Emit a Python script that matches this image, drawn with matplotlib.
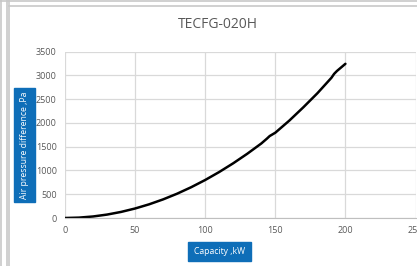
import numpy as np
import matplotlib.pyplot as plt
from matplotlib.patches import Rectangle

plt.rcParams['font.family'] = ['Open Sans', 'DejaVu Sans']

# capacity (kW) vs air pressure difference (Pa)
capacity = [0, 10, 20, 30, 40, 50, 60, 70, 80, 90, 100, 110, 120, 130, 140, 144,
            146, 150, 160, 170, 180, 190, 192, 194, 200]
pressure = [0, 8, 32, 72, 128, 200, 288, 392, 512, 648, 800, 968, 1152, 1352, 1568, 1670,
            1725, 1795, 2050, 2330, 2625, 2950, 3035, 3095, 3245]

x_ticks = [0, 50, 100, 150, 200, 250]
y_ticks = [0, 500, 1000, 1500, 2000, 2500, 3000, 3500]

title = "TECFG-020H"
x_label = "Capacity ,kW"
y_label = "Air pressure difference ,Pa"

blue = "#0E6EB8"
grey_txt = "#595959"
grid_c = "#D9D9D9"

fig = plt.figure(figsize=(4.17, 2.66), dpi=100)

# outer frame lines
for x0 in [1, 7, 9]:
    fig.add_artist(plt.Line2D([x0 / 417, x0 / 417], [0, 1], color="#C8C8C8", lw=1.2))
fig.add_artist(plt.Line2D([9 / 417, 1], [1 - 6 / 266, 1 - 6 / 266], color="#C8C8C8", lw=1.2))
fig.add_artist(plt.Line2D([0, 1], [1 - 1 / 266, 1 - 1 / 266], color="#C8C8C8", lw=1.2))

ax = fig.add_axes([65 / 417, 1 - 218 / 266, (415.5 - 65) / 417, (218 - 51.7) / 266])
ax.plot(capacity, pressure, color="black", lw=1.8, solid_capstyle="round")

ax.set_xlim(0, 250)
ax.set_ylim(0, 3500)
ax.set_xticks(x_ticks)
ax.set_yticks(y_ticks)
ax.grid(True, color=grid_c, lw=0.9)
ax.set_axisbelow(True)
for s in ["top", "right", "left"]:
    ax.spines[s].set_visible(False)
ax.spines["bottom"].set_color("#BFBFBF")
ax.tick_params(length=0, labelsize=6.5, labelcolor=grey_txt, pad=6)

fig.text(218 / 417, 1 - 25 / 266, title, ha="center", va="center", fontsize=10, color=grey_txt)

# y label box
fig.add_artist(Rectangle((14 / 417, 1 - 202 / 266), 21 / 417, 114 / 266,
                         transform=fig.transFigure, color=blue))
fig.text(24.5 / 417, 1 - 145 / 266, y_label, rotation=90, ha="center", va="center",
         fontsize=6.2, color="white")

# x label box
fig.add_artist(Rectangle((188 / 417, 1 - 261 / 266), 63 / 417, 19 / 266,
                         transform=fig.transFigure, color=blue))
fig.text(219.5 / 417, 1 - 252 / 266, x_label, ha="center", va="center",
         fontsize=6.2, color="white")

fig.savefig("out.png", dpi=100)
